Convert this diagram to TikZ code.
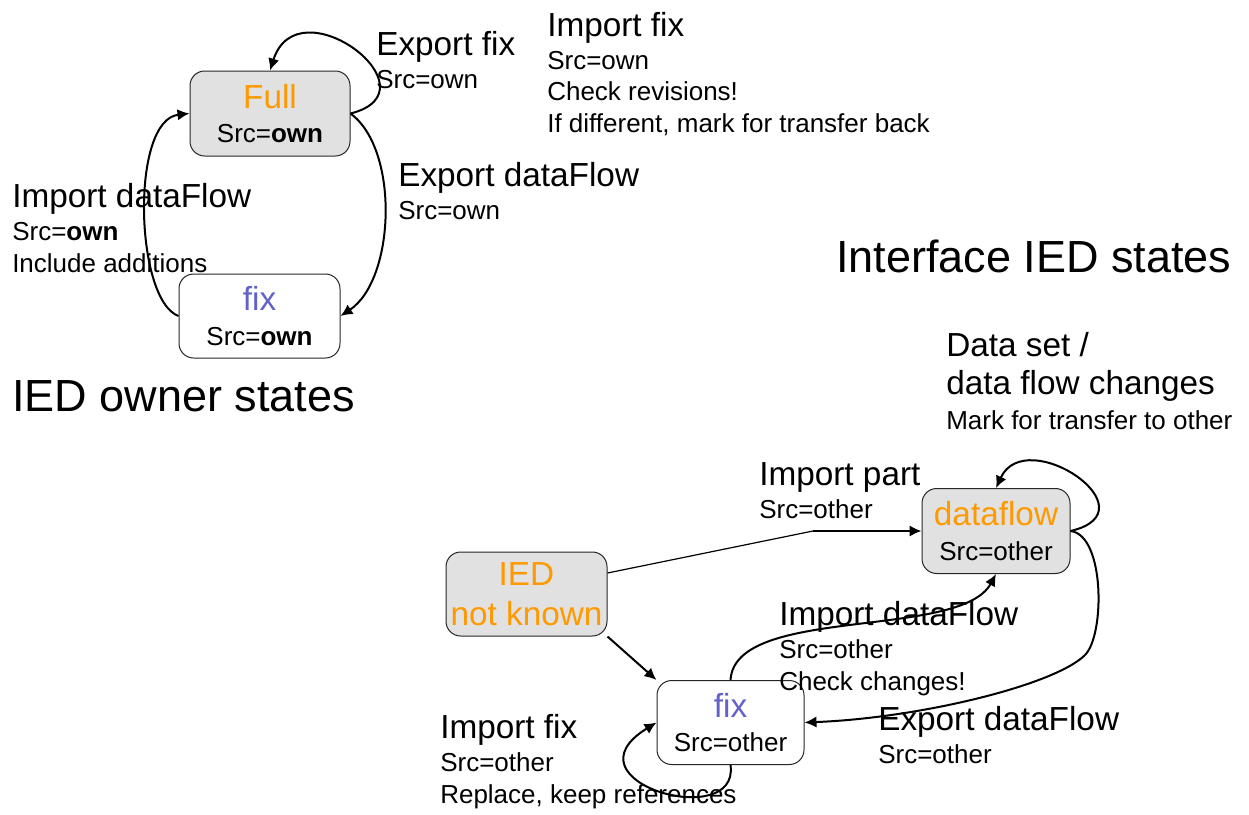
\documentclass[tikz,border=0pt]{standalone}
\usepackage{fontspec}
\setmainfont{Liberation Sans}
\usetikzlibrary{arrows.meta,calc}
\definecolor{boxorange}{HTML}{FF9900}
\definecolor{fixblue}{HTML}{6262C8}
\definecolor{boxgray}{HTML}{E1E1E1}
\newcommand\bigfs{\fontsize{25}{30}\selectfont}
\newcommand\smallfs{\fontsize{19.5}{23.6}\selectfont}
\newcommand\titlefs{\fontsize{33.75}{40}\selectfont}
\tikzset{
  statebox/.style={draw=black!85, line width=0.75pt, rounded corners=11pt,
    align=center, inner sep=0pt, font=\fontsize{19.5}{26}\selectfont},
  graybox/.style={statebox, fill=boxgray},
  whitebox/.style={statebox, fill=white},
  lbl/.style={anchor=base west, align=left, inner sep=0pt, font=\smallfs},
  titlelbl/.style={anchor=base west, inner sep=0pt, font=\titlefs},
  conn/.style={line width=1.5pt, -{Latex[length=9pt,width=8.5pt]}},
  thinline/.style={line width=0.9pt}
}
\begin{document}
\begin{tikzpicture}[x=0.75pt,y=-0.75pt]
\useasboundingbox (0,0) rectangle (1249,814);

% ---------- IED owner states ----------
\node[graybox, minimum width=120pt, minimum height=63.75pt] (full) at (270,113.5)
  {{\bigfs\color{boxorange}Full}\\Src=\textbf{own}};
\node[whitebox, minimum width=120.75pt, minimum height=63pt] (fixt) at (259.5,316)
  {{\bigfs\color{fixblue}fix}\\Src=\textbf{own}};

\draw[conn] (full.east) .. controls +(90,-22.5) and +(28,-88) .. (full.north);
\draw[conn] (full.east) .. controls (400,150) and (395,280) .. (fixt.east);
\draw[conn] (fixt.west) .. controls (135,300) and (130,120) .. (full.west);

% labels are anchored at the baseline of their last line
\node[lbl] (lexpfix) at (376,88) {{\bigfs Export fix}\\[1pt]Src=own};
\node[lbl] (limpfix) at (547,132) {{\bigfs Import fix}\\[1pt]Src=own\\Check revisions!\\If different, mark for transfer back};
\node[lbl] (lexpdf) at (398,219) {{\bigfs Export dataFlow}\\[1pt]Src=own};
\node[lbl] (limpdf) at (12,272) {{\bigfs Import dataFlow}\\[1.5pt]Src=\textbf{own}\\Include additions};
\node[titlelbl] (towner) at (12,411) {IED owner states};

% ---------- Interface IED states ----------
\node[titlelbl] (tiface) at (836,272) {Interface IED states};

\node[graybox, minimum width=120.75pt, minimum height=63pt, font=\bigfs] (ied) at (526.5,594)
  {\color{boxorange}IED\\\color{boxorange}not known};
\node[graybox, minimum width=111pt, minimum height=63.75pt] (dflow) at (996,531)
  {{\bigfs\color{boxorange}dataflow}\\Src=other};
\node[whitebox, minimum width=110.25pt, minimum height=63pt] (fixb) at (730.5,722.5)
  {{\bigfs\color{fixblue}fix}\\Src=other};

\coordinate (ipbend) at (813,531);
\draw[thinline] ($(ied.east)+(0,-21)$) -- (ipbend);
\draw[conn] (ipbend) -- (dflow.west);
\draw[conn] (ied.south east) -- (fixb.north west);
\draw[conn] (dflow.east) .. controls +(85,-20) and +(30,-65) .. (dflow.north);
\draw[conn] (fixb.north) .. controls (735,605) and (960,640) .. (dflow.south);
\coordinate (edbend) at (1085,655);
\draw[conn] (dflow.east) .. controls (1105,535) and (1105,635) .. (edbend)
  .. controls (1055,685) and (920,718) .. (fixb.east);
\draw[conn] (fixb.south) .. controls (740,832) and (560,782) .. (fixb.west);

\node[lbl] (ldset) at (946,429) {{\bigfs Data set /}\\[5pt]{\bigfs data flow changes}\\[2pt]Mark for transfer to other};
\node[lbl] (limppart) at (759,518) {{\bigfs Import part}\\[1pt]Src=other};
\node[lbl] (limpdf2) at (779,690) {{\bigfs Import dataFlow}\\[1pt]Src=other\\Check changes!};
\node[lbl] (lexpdf2) at (878,763) {{\bigfs Export dataFlow}\\[1pt]Src=other};
\node[lbl] (limpfix2) at (440,803) {{\bigfs Import fix}\\[1pt]Src=other\\Replace, keep references};
\end{tikzpicture}
\end{document}
